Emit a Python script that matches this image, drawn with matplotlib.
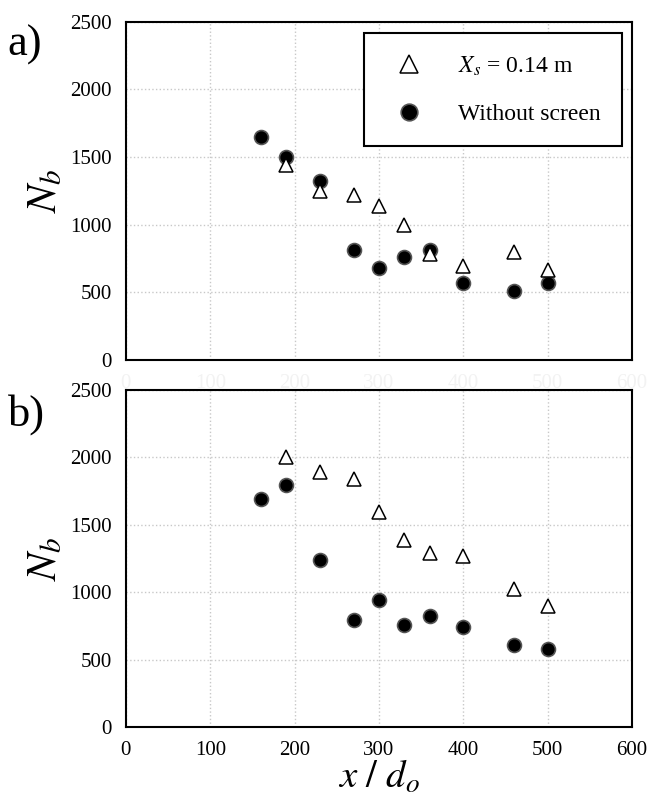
import matplotlib.pyplot as plt
import matplotlib as mpl

plt.rcParams['font.family'] = ['Liberation Serif', 'DejaVu Serif']
plt.rcParams['mathtext.fontset'] = 'stix'

# panel a)
xa_tri = [190, 230, 270, 300, 330, 360, 400, 460, 500]
ya_tri = [1440, 1250, 1220, 1135, 995, 780, 690, 800, 665]
xa_dot = [160, 190, 230, 270, 300, 330, 360, 400, 460, 500]
ya_dot = [1650, 1500, 1325, 810, 680, 760, 815, 565, 505, 565]

# panel b)
xb_tri = [190, 230, 270, 300, 330, 360, 400, 460, 500]
yb_tri = [2000, 1895, 1840, 1595, 1385, 1290, 1265, 1025, 900]
xb_dot = [160, 190, 230, 270, 300, 330, 360, 400, 460, 500]
yb_dot = [1690, 1795, 1240, 790, 945, 760, 825, 740, 605, 580]

xticks = [0, 100, 200, 300, 400, 500, 600]
yticks = [0, 500, 1000, 1500, 2000, 2500]

fig = plt.figure(figsize=(6.49, 8.10), dpi=100)
axa = fig.add_axes([0.194, 0.556, 0.780, 0.417])
axb = fig.add_axes([0.194, 0.1025, 0.780, 0.416])

def style(ax, ghost=False):
    ax.set_xlim(0, 600)
    ax.set_ylim(0, 2500)
    ax.set_xticks(xticks)
    ax.set_yticks(yticks)
    ax.grid(True, color='#c8c8c8', linestyle=':', linewidth=1.0)
    ax.set_axisbelow(True)
    for s in ax.spines.values():
        s.set_linewidth(1.5)
        s.set_color('black')
    ax.tick_params(length=0, labelsize=15, pad=10)
    ax.set_ylabel('$N_b$', fontsize=30, labelpad=4)
    if ghost:
        ax.tick_params(axis='x', labelcolor='#f2f2f2')
        ax.set_xlabel('$x\\ /\\ d_o$', fontsize=28, color='#f2f2f2', labelpad=0)
    else:
        ax.set_xlabel('$x\\ /\\ d_o$', fontsize=28, labelpad=0)

def draw(ax, xt, yt, xd, yd):
    ax.plot(xd, yd, 'o', ms=10, mfc='black', mec='#555555', mew=1.2,
            ls='none', label='Without screen', zorder=3)
    ax.plot(xt, yt, '^', ms=10.5, mfc='white', mec='black', mew=1.1,
            ls='none', label='$X_s$ = 0.14 m', zorder=4)

draw(axa, xa_tri, ya_tri, xa_dot, ya_dot)
draw(axb, xb_tri, yb_tri, xb_dot, yb_dot)
style(axa, ghost=True)
style(axb)

h, l = axa.get_legend_handles_labels()
leg = axa.legend([h[1], h[0]], [l[1], l[0]], loc='upper right',
                 bbox_to_anchor=(0.98, 0.967), fontsize=17, frameon=True,
                 fancybox=False, edgecolor='black', borderpad=0.9,
                 labelspacing=1.1, handletextpad=1.1, borderaxespad=0.0,
                 markerscale=1.2)
leg.get_frame().set_linewidth(1.5)
leg.get_frame().set_alpha(1)

fig.text(0.012, 0.945, 'a)', fontsize=32, va='center')
fig.text(0.012, 0.488, 'b)', fontsize=32, va='center')

fig.savefig('out.png', dpi=100)
